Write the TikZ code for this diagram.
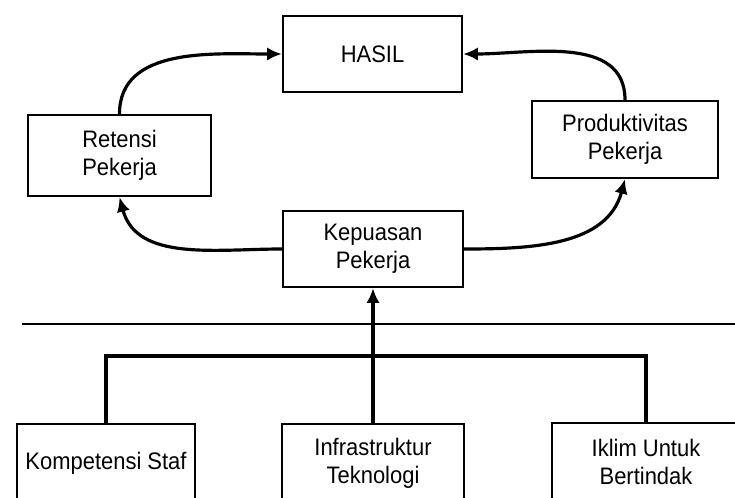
\documentclass[tikz,border=0pt]{standalone}
\usepackage{fontspec}
\setmainfont[FakeStretch=0.92]{Liberation Sans}
\usetikzlibrary{arrows.meta}
\begin{document}
\begin{tikzpicture}[x=0.0265cm,y=-0.0265cm,
  box/.style={draw=black,line width=1.8pt,fill=white,align=center,inner sep=0pt,
    font=\fontsize{18}{21}\selectfont},
  conn/.style={line width=2.4pt},
  arr/.style={conn,-{Latex[length=11pt,width=10pt]}}]
\useasboundingbox[fill=white] (0,0) rectangle (735,497);
\clip (0,0) rectangle (735,497);
\node[box,minimum width={179*0.0265cm},minimum height={76*0.0265cm}] (hasil) at (372.5,54) {HASIL};
\node[box,minimum width={183*0.0265cm},minimum height={81*0.0265cm}] (ret) at (119.5,155.5) {Retensi\\Pekerja};
\node[box,minimum width={186*0.0265cm},minimum height={77*0.0265cm}] (prod) at (625,139.5) {Produktivitas\\Pekerja};
\node[box,minimum width={180*0.0265cm},minimum height={76*0.0265cm}] (kep) at (373,249) {Kepuasan\\Pekerja};
\node[box,minimum width={178*0.0265cm},minimum height={78*0.0265cm}] (komp) at (106,463) {Kompetensi Staf};
\node[box,minimum width={182*0.0265cm},minimum height={78*0.0265cm}] (infra) at (373,463) {Infrastruktur\\Teknologi};
\node[box,minimum width={188*0.0265cm},minimum height={78*0.0265cm}] (iklim) at (646,462) {Iklim Untuk\\Bertindak};
\coordinate (hl) at (22,324);
\coordinate (hr) at (735,324);
\coordinate (bl) at (106,356);
\coordinate (br) at (646,356);
\draw[arr] (ret.north) to[out=90,in=180] (hasil.west);
\draw[arr] (prod.north) to[out=90,in=0] (hasil.east);
\draw[arr] (kep.west) to[out=180,in=-75] (ret.south);
\draw[arr] (kep.east) to[out=0,in=-105] (prod.south);
\draw[arr] (infra.north) -- (kep.south);
\draw[line width=1.8pt] (hl) -- (hr);
\draw[conn] (komp.north) -- (bl) -- (br) -- (iklim.north);
\end{tikzpicture}
\end{document}
